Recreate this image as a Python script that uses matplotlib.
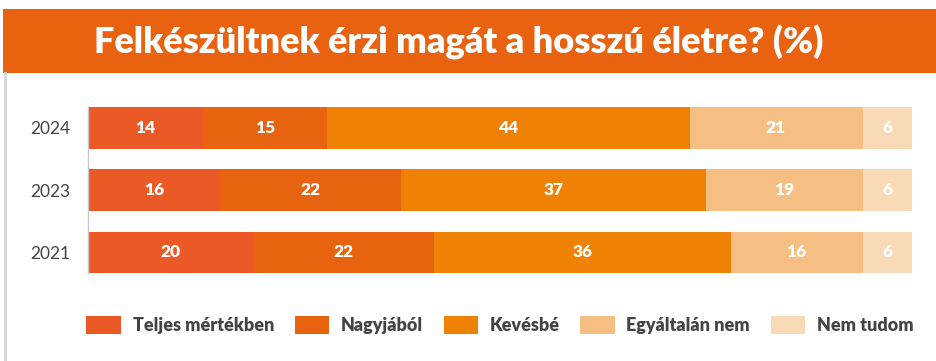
import matplotlib.pyplot as plt
from matplotlib.patches import Rectangle, Patch
from matplotlib.lines import Line2D
import numpy as np

plt.rcParams['font.family'] = ['Lato', 'DejaVu Sans']

years = ['2024', '2023', '2021']
categories = ['Teljes mértékben', 'Nagyjából', 'Kevésbé', 'Egyáltalán nem', 'Nem tudom']
values = {
    'Teljes mértékben': [14, 16, 20],
    'Nagyjából': [15, 22, 22],
    'Kevésbé': [44, 37, 36],
    'Egyáltalán nem': [21, 19, 16],
    'Nem tudom': [6, 6, 6],
}
colors = ['#EB5A26', '#E8630F', '#EF8104', '#F5BE82', '#F8DAB6']
title = 'Felkészültnek érzi magát a hosszú életre? (%)'

W, H = 936, 361
fig = plt.figure(figsize=(W / 100, H / 100), dpi=100)

# orange title banner
fig.add_artist(Rectangle((3 / W, 1 - 73 / H), 1 - 3 / W, 64 / H,
                         transform=fig.transFigure, color='#E8620F', lw=0))
fig.text(459 / W, 1 - 42 / H, title, color='white', fontsize=26,
         fontweight='heavy', ha='center', va='center')
# thin grey panel edge on the left
fig.add_artist(Line2D([5 / W, 5 / W], [0, 1 - 73 / H], transform=fig.transFigure,
                      color='#d4d4d4', lw=2))

bar_h = 41 / 61.5
ax = fig.add_axes([88 / W, 1 - 273 / H, 824 / W, 166 / H])
y = np.arange(len(years))
left = np.zeros(len(years))
for cat, col in zip(categories, colors):
    vals = np.array(values[cat])
    ax.barh(y, vals, left=left, height=bar_h, color=col, lw=0)
    for yi, l, v in zip(y, left, vals):
        ax.text(l + v / 2, yi, str(v), ha='center', va='center',
                color='white', fontsize=12.5, fontweight='heavy')
    left += vals

ax.set_xlim(0, 100)
ax.set_ylim(len(years) - 1 + bar_h / 2, -bar_h / 2)
ax.set_yticks(y)
ax.set_yticklabels(years, fontsize=12.5, color='#444444')
ax.tick_params(axis='y', length=0, pad=13)
ax.set_xticks([])
for s in ['top', 'right', 'bottom']:
    ax.spines[s].set_visible(False)
ax.spines['left'].set_color('#c8c8c8')
ax.spines['left'].set_linewidth(1)

handles = [Patch(facecolor=c, edgecolor='none', label=k) for k, c in zip(categories, colors)]
leg = fig.legend(handles=handles, loc='center', bbox_to_anchor=(500 / W, 1 - 325 / H),
                 ncol=5, frameon=False, fontsize=13, handlelength=1.9, handleheight=1.15,
                 handletextpad=0.65, columnspacing=1.15, borderpad=0, borderaxespad=0)
for t in leg.get_texts():
    t.set_color('#444444')
    t.set_fontweight('heavy')

fig.savefig('out.png', dpi=100)
